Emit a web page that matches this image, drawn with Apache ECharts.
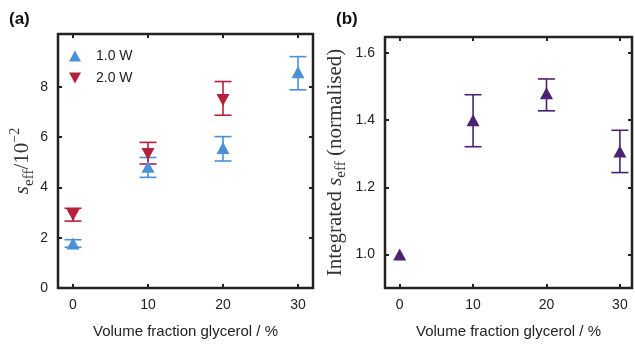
<!DOCTYPE html>
<html>
<head>
<meta charset="utf-8">
<script src="https://cdn.jsdelivr.net/npm/echarts@6/dist/echarts.min.js"></script>
<style>html,body{margin:0;padding:0;background:#fff}#c{width:635px;height:344px}</style>
</head>
<body>
<div id="c"></div>
<script>
// ---- data ----
const xTicks = [0, 10, 20, 30];
const aYTicks = [0, 2, 4, 6, 8];
const bYTicks = [1.0, 1.2, 1.4, 1.6];

const w1x = [0, 10, 20, 30];
const w1y = [1.77, 4.82, 5.57, 8.58];
const w1lo = [1.62, 4.40, 5.05, 7.88];
const w1hi = [1.92, 5.19, 6.02, 9.20];

const w2x = [0, 10, 20];
const w2y = [2.90, 5.33, 7.48];
const w2lo = [2.66, 4.93, 6.87];
const w2hi = [3.17, 5.79, 8.21];

const bx = [0, 10, 20, 30];
const by = [1.00, 1.40, 1.48, 1.307];
const blo = [1.00, 1.321, 1.428, 1.244];
const bhi = [1.00, 1.476, 1.523, 1.370];

// ---- styles ----
const BLUE = '#4a90d6', RED = '#b5213a', PURPLE = '#4b2372', INK = '#222';
const UP = 'path://M5,0 L10,9 L0,9 Z';
const DOWN = 'path://M0,0 L10,0 L5,9 Z';

function pts(xs, ys) { return xs.map((x, i) => [x, ys[i]]); }
function errs(xs, lo, hi) { return xs.map((x, i) => [x, lo[i], hi[i]]); }

function errSeries(name, xi, yi, data, color) {
  return {
    type: 'custom', name: name, xAxisIndex: xi, yAxisIndex: yi, silent: true,
    data: data, z: 3,
    renderItem: function (params, api) {
      const x = api.value(0), lo = api.value(1), hi = api.value(2);
      if (lo === hi) return null;
      const p1 = api.coord([x, hi]), p2 = api.coord([x, lo]);
      const hw = 8.5;
      const st = { stroke: color, lineWidth: 1.6 };
      return { type: 'group', children: [
        { type: 'line', shape: { x1: p1[0], y1: p1[1], x2: p2[0], y2: p2[1] }, style: st },
        { type: 'line', shape: { x1: p1[0] - hw, y1: p1[1], x2: p1[0] + hw, y2: p1[1] }, style: st },
        { type: 'line', shape: { x1: p2[0] - hw, y1: p2[1], x2: p2[0] + hw, y2: p2[1] }, style: st }
      ]};
    }
  };
}

const tickStyle = { show: true, inside: true, length: 4, lineStyle: { color: INK, width: 2 } };
const lblFont = { color: INK, fontSize: 14, fontFamily: 'Liberation Sans, Arial, sans-serif' };

function xAx(gi, pos, show) {
  return {
    type: 'value', gridIndex: gi, position: pos, min: -2, max: gi === 0 ? 32 : 31.65,
    axisLine: { show: false, onZero: false }, splitLine: { show: false },
    axisTick: Object.assign({ customValues: xTicks }, tickStyle),
    axisLabel: Object.assign({ show: show, margin: 10, customValues: xTicks }, lblFont),
    name: show ? 'Volume fraction glycerol / %' : '', nameLocation: 'middle', nameGap: 36,
    nameTextStyle: { color: INK, fontSize: 15, fontFamily: 'Liberation Sans, Arial, sans-serif' }
  };
}
function yAx(gi, pos, show, min, max, ticks, fmt, name, gap) {
  return {
    type: 'value', gridIndex: gi, position: pos, min: min, max: max,
    axisLine: { show: false, onZero: false }, splitLine: { show: false },
    axisTick: Object.assign({ customValues: ticks }, tickStyle),
    axisLabel: Object.assign({ show: show, margin: 10, customValues: ticks, formatter: fmt }, lblFont),
    name: show ? name : '', nameLocation: 'middle', nameRotate: 90, nameGap: gap,
    nameTextStyle: {
      color: '#333', fontSize: 21, fontFamily: 'Liberation Serif, Times New Roman, serif',
      rich: {
        n: { fontSize: 21, lineHeight: 28, fontFamily: 'Liberation Serif, serif', color: '#333' },
        i: { fontSize: 21, lineHeight: 28, fontStyle: 'italic', fontFamily: 'Liberation Serif, serif', color: '#333' },
        sub: { fontSize: 15, verticalAlign: 'bottom', lineHeight: 15, fontFamily: 'Liberation Serif, serif', color: '#333' },
        sup: { fontSize: 14, verticalAlign: 'top', lineHeight: 15, fontFamily: 'Liberation Serif, serif', color: '#333' }
      }
    }
  };
}

const chart = echarts.init(document.getElementById('c'), null, { renderer: 'canvas' });
chart.setOption({
  animation: false,
  backgroundColor: '#fff',
  title: [
    { text: '(a)', left: 4, top: 6, textStyle: { fontSize: 17, fontWeight: 'bold', color: '#111', fontFamily: 'Liberation Sans, Arial, sans-serif' } },
    { text: '(b)', left: 331, top: 6, textStyle: { fontSize: 17, fontWeight: 'bold', color: '#111', fontFamily: 'Liberation Sans, Arial, sans-serif' } }
  ],
  legend: {
    left: 64, top: 44, orient: 'vertical', itemGap: 8, itemWidth: 12, itemHeight: 11,
    data: ['1.0 W', '2.0 W'],
    textStyle: { color: INK, fontSize: 14, fontFamily: 'Liberation Sans, Arial, sans-serif', padding: [0, 0, 0, 10] }
  },
  grid: [
    { left: 58, top: 34, width: 255, height: 258, show: true, borderColor: INK, borderWidth: 2.5, backgroundColor: 'transparent' },
    { left: 385, top: 37, width: 247, height: 253, show: true, borderColor: INK, borderWidth: 2.5, backgroundColor: 'transparent' }
  ],
  xAxis: [xAx(0, 'bottom', true), xAx(0, 'top', false), xAx(1, 'bottom', true), xAx(1, 'top', false)],
  yAxis: [
    yAx(0, 'left', true, 0, 10.1, aYTicks, v => String(v), '{i|s}{sub|eff}{n|/10}{sup|\u22122}', 20),
    yAx(0, 'right', false, 0, 10.1, aYTicks, v => String(v), '', 0),
    yAx(1, 'left', true, 0.9, 1.648, bYTicks, v => v.toFixed(1), '{n|Integrated }{i|s}{sub|eff}{n| (normalised)}', 36),
    yAx(1, 'right', false, 0.9, 1.648, bYTicks, v => v.toFixed(1), '', 0)
  ],
  series: [
    errSeries('e1', 0, 0, errs(w1x, w1lo, w1hi), BLUE),
    errSeries('e2', 0, 0, errs(w2x, w2lo, w2hi), RED),
    errSeries('e3', 2, 2, errs(bx, blo, bhi), PURPLE),
    { type: 'scatter', name: '1.0 W', xAxisIndex: 0, yAxisIndex: 0, data: pts(w1x, w1y), symbol: UP, symbolSize: [13, 12], itemStyle: { color: BLUE, opacity: 1 }, z: 4 },
    { type: 'scatter', name: '2.0 W', xAxisIndex: 0, yAxisIndex: 0, data: pts(w2x, w2y), symbol: DOWN, symbolSize: [13, 12], itemStyle: { color: RED, opacity: 1 }, z: 4 },
    { type: 'scatter', name: 'b', xAxisIndex: 2, yAxisIndex: 2, data: pts(bx, by), symbol: UP, symbolSize: [13, 12], itemStyle: { color: PURPLE, opacity: 1 }, z: 4 }
  ]
});
</script>
</body>
</html>
